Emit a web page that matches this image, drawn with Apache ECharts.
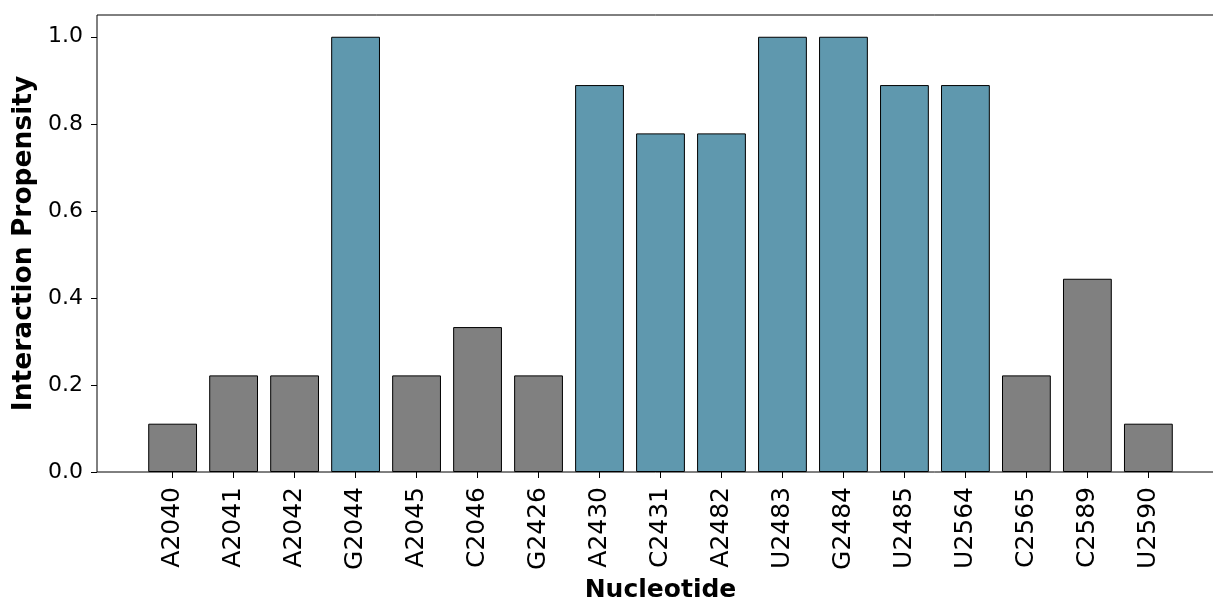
<!DOCTYPE html>
<html><head><meta charset="utf-8">
<script src="https://cdn.jsdelivr.net/npm/echarts@6/dist/echarts.min.js"></script>
<style>html,body{margin:0;padding:0;background:#fff;overflow:hidden}#c{width:1213px;height:599px}</style>
</head><body><div id="c"></div>
<script>
const categories = ["A2040","A2041","A2042","G2044","A2045","C2046","G2426","A2430","C2431","A2482","U2483","G2484","U2485","U2564","C2565","C2589","U2590"];
const values = [0.111,0.222,0.222,1.0,0.222,0.333,0.222,0.889,0.778,0.778,1.0,1.0,0.889,0.889,0.222,0.444,0.111];
const highlighted = [false,false,false,true,false,false,false,true,true,true,true,true,true,true,false,false,false];
const yTicks = [0,0.2,0.4,0.6,0.8,1.0];
const BLUE = '#5f98ae', GRAY = '#808080';
const chart = echarts.init(document.getElementById('c'));
const font = 'DejaVu Sans';
chart.setOption({
  animation:false,
  grid:{left:97,top:15,width:1127,height:457,outerBoundsMode:'none',containLabel:false,show:true,borderColor:'#000',borderWidth:1,backgroundColor:'transparent'},
  xAxis:{type:'value',min:-1.24,max:17.24,
    name:'Nucleotide',nameLocation:'middle',nameGap:98,
    nameTextStyle:{fontFamily:font,fontSize:25,fontWeight:'bold',color:'#000'},
    axisLine:{show:false,onZero:false},splitLine:{show:false},
    axisTick:{show:true,length:6,customValues:categories.map((c,i)=>i),lineStyle:{color:'#000'}},
    axisLabel:{customValues:categories.map((c,i)=>i),rotate:90,margin:15,fontFamily:font,fontSize:25,color:'#000',
      formatter:v=>categories[Math.round(v)]}},
  yAxis:{type:'value',min:0,max:1.05,
    name:'Interaction Propensity',nameLocation:'middle',nameGap:59,
    nameTextStyle:{fontFamily:font,fontSize:26.5,fontWeight:'bold',color:'#000'},
    axisLine:{show:false,onZero:false},splitLine:{show:false},
    axisTick:{show:true,length:6,customValues:yTicks,lineStyle:{color:'#000'}},
    axisLabel:{customValues:yTicks,margin:14,fontFamily:font,fontSize:22,color:'#000',formatter:v=>v.toFixed(1)}},
  series:[{type:'bar',barWidth:48.8,
    data:values.map((v,i)=>({value:[i,v],itemStyle:{color:highlighted[i]?BLUE:GRAY,borderColor:'#000',borderWidth:1}}))}]
});
</script></body></html>
